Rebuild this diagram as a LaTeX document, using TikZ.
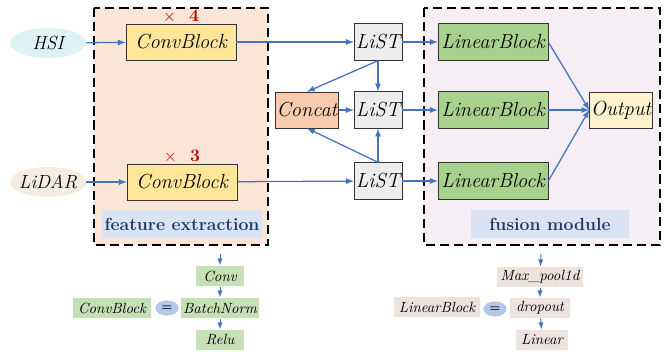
\documentclass[tikz,border=0pt]{standalone}
\usepackage{tikz}
\usetikzlibrary{shapes.geometric}
\definecolor{featfill}{HTML}{FBE5D6}
\definecolor{fusefill}{HTML}{F5EFF5}
\definecolor{convfill}{HTML}{FFE699}
\definecolor{listfill}{HTML}{EDEDED}
\definecolor{linfill}{HTML}{A9D18E}
\definecolor{outfill}{HTML}{FFF2CC}
\definecolor{catfill}{HTML}{F8CBAD}
\definecolor{hsifill}{HTML}{DEF3F3}
\definecolor{lidarfill}{HTML}{F3ECE1}
\definecolor{arrowblue}{HTML}{4472C4}
\definecolor{tagfill}{HTML}{DAE3F3}
\definecolor{tagtext}{HTML}{1F3864}
\definecolor{smallgreen}{HTML}{C5E0B4}
\definecolor{smallrose}{HTML}{ECE2DE}
\definecolor{eqfill}{HTML}{B4C7E7}
\definecolor{timesred}{HTML}{C00000}
\tikzstyle{net}=[x=0.025cm,y=-0.025cm]
\tikzstyle{region}=[draw=black, line width=1.4pt, dash pattern=on 6.5pt off 3.5pt]
\tikzstyle{blk}=[rectangle, draw=black!80, inner sep=1pt, minimum height=0.9cm, font=\fontsize{14.5}{16}\selectfont\itshape]
\tikzstyle{conv}=[blk, fill=convfill, minimum width=2.75cm]
\tikzstyle{list}=[blk, fill=listfill, minimum width=1.2cm, minimum height=0.92cm]
\tikzstyle{lin}=[blk, fill=linfill, minimum width=2.75cm, minimum height=0.92cm]
\tikzstyle{fuse}=[blk, minimum width=1.55cm]
\tikzstyle{src}=[ellipse, inner xsep=-3pt, inner ysep=0pt, minimum width=1.9cm, minimum height=0.75cm, font=\fontsize{13.5}{15}\selectfont\itshape]
\tikzstyle{tag}=[rectangle, fill=tagfill, text=tagtext, inner xsep=1pt, minimum height=0.7cm, font=\fontsize{12.5}{14}\selectfont\bfseries]
\tikzstyle{rep}=[text=timesred, inner sep=1pt, font=\fontsize{12.5}{14}\selectfont\bfseries]
\tikzstyle{part}=[rectangle, inner sep=1pt, minimum height=0.52cm, font=\fontsize{10.5}{12}\selectfont\itshape]
\tikzstyle{eq}=[ellipse, fill=eqfill, inner sep=0pt, minimum width=0.58cm, minimum height=0.38cm, font=\footnotesize\bfseries]
\tikzstyle{edge}=[->, line width=0.9pt, draw=arrowblue, -latex]
\tikzstyle{substep}=[->, line width=0.7pt, draw=arrowblue, -latex]

\begin{document}
\begin{tikzpicture}[net]
	\useasboundingbox (0,0) rectangle (668,352);
	
	%The two regions
	\draw[region, fill=featfill] (94,8) rectangle (268,245);
	\draw[region, fill=fusefill] (424,8) rectangle (660,245);
	\draw (182,224) node[tag, minimum width=4cm] (fe) {feature extraction};
	\draw (550,224) node[tag, minimum width=3.93cm] (fm) {fusion module};
	
	%Inputs
	\draw (48,43) node[src, fill=hsifill] (hsi) {HSI};
	\draw (48,182) node[src, fill=lidarfill] (lidar) {LiDAR};
	
	%Feature extraction
	\draw (181,42) node[conv] (cb1) {ConvBlock};
	\draw (182,182) node[conv] (cb2) {ConvBlock};
	\draw (181,16) node[rep] (x4) {$\times$\ \ 4};
	\draw (182,156) node[rep] (x3) {$\times$\ \ 3};
	
	%LiST and Concat
	\draw (378,42) node[list] (l1) {LiST};
	\draw (378,110) node[list] (l2) {LiST};
	\draw (378,181) node[list] (l3) {LiST};
	\draw (307,110) node[fuse, fill=catfill] (cat) {Concat};
	
	%Fusion module
	\draw (493,42) node[lin] (lb1) {LinearBlock};
	\draw (493,110) node[lin] (lb2) {LinearBlock};
	\draw (493,181) node[lin] (lb3) {LinearBlock};
	\draw (621,110) node[fuse, fill=outfill] (out) {Output};
	
	\draw[edge] (hsi) -- (cb1);
	\draw[edge] (lidar) -- (cb2);
	\draw[edge] (cb1) -- (l1);
	\draw[edge] (cb2) -- (l3);
	
	\draw[edge] (l1.south) -- (cat.north);
	\draw[edge] (l1.south) -- (l2.north);
	\draw[edge] (l3.north) -- (cat.south);
	\draw[edge] (l3.north) -- (l2.south);
	\draw[edge] (cat) -- (l2);
	
	\draw[edge] (l1) -- (lb1);
	\draw[edge] (l2) -- (lb2);
	\draw[edge] (l3) -- (lb3);
	\draw[edge] (lb1.east) -- (out.west);
	\draw[edge] (lb2.east) -- (out.west);
	\draw[edge] (lb3.east) -- (out.west);
	
	%ConvBlock detail
	\coordinate (c0) at (220,254);
	\draw (220,276) node[part, fill=smallgreen, minimum width=1.2cm] (conv) {Conv};
	\draw (220,308) node[part, fill=smallgreen, minimum width=1.93cm] (bn) {BatchNorm};
	\draw (220,340) node[part, fill=smallgreen, minimum width=1.2cm] (relu) {Relu};
	\draw (112,308) node[part, fill=smallgreen, minimum width=1.95cm] (cbdef) {ConvBlock};
	\draw (167,308) node[eq] (eq1) {=};
	\draw[substep] (c0) -- (conv);
	\draw[substep] (conv) -- (bn);
	\draw[substep] (bn) -- (relu);
	
	%LinearBlock detail
	\coordinate (d0) at (541,254);
	\draw (540,277) node[part, fill=smallrose, minimum width=2.15cm] (pool) {Max\_pool1d};
	\draw (540,308) node[part, fill=smallrose, minimum width=1.48cm] (drop) {dropout};
	\draw (542,340) node[part, fill=smallrose, minimum width=1.3cm] (linr) {Linear};
	\draw (437,307) node[part, fill=smallrose, minimum width=2.15cm] (lbdef) {LinearBlock};
	\draw (495,309) node[eq] (eq2) {=};
	\draw[substep] (d0) -- (pool);
	\draw[substep] (pool) -- (drop);
	\draw[substep] (drop) -- (linr);
\end{tikzpicture}
\end{document}
